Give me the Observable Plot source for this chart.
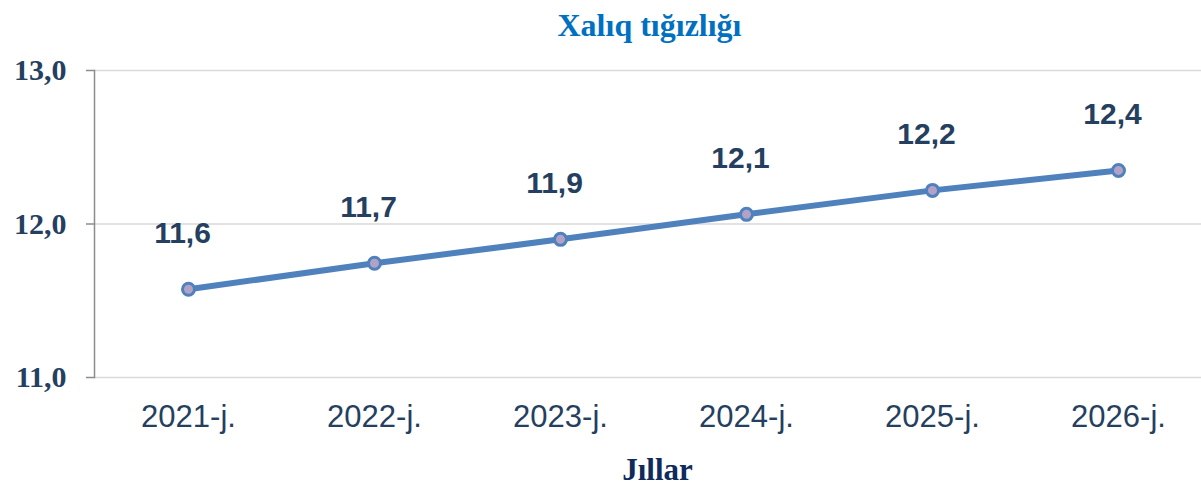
<!DOCTYPE html>
<html>
<head>
<meta charset="utf-8">
<script src="https://cdn.jsdelivr.net/npm/d3@7"></script>
<script src="https://cdn.jsdelivr.net/npm/@observablehq/plot@0.6"></script>
<style>
  body { margin: 0; background: #fff; }
  #wrap { position: relative; width: 1201px; height: 489px; overflow: hidden; }
  .ttl { position: absolute; left: 0; width: 1201px; text-align: center; box-sizing: border-box;
         font-family: "Liberation Serif", "Times New Roman", serif; font-weight: bold; }
  #title { top: 9px; font-size: 32px; line-height: 32px; color: #0070c0; padding-left: 98px; }
  #xlabel { top: 456px; font-size: 31px; line-height: 28px; color: #0f2a5c; padding-left: 114px; }
</style>
</head>
<body>
<div id="wrap">
  <div id="chart"></div>
  <div id="title" class="ttl">Xalıq tığızlığı</div>
  <div id="xlabel" class="ttl">Jıllar</div>
</div>
<script>
const years = ["2021-j.", "2022-j.", "2023-j.", "2024-j.", "2025-j.", "2026-j."];
const values = [11.575, 11.744, 11.90, 12.063, 12.219, 12.349];
const valueLabels = ["11,6", "11,7", "11,9", "12,1", "12,2", "12,4"];
const yTicks = [11, 12, 13];

const data = years.map((y, i) => ({year: y, value: values[i], label: valueLabels[i]}));
const navy = "#243f60";

const chart = Plot.plot({
  width: 1201,
  height: 489,
  marginTop: 70,
  marginBottom: 112,
  marginLeft: 94,
  marginRight: 0,
  style: {background: "transparent", overflow: "visible"},
  x: {type: "point", domain: years, range: [187, 1118], padding: 0, label: null},
  y: {domain: [11, 13], label: null},
  marks: [
    Plot.gridY(yTicks, {stroke: "#d9d9d9", strokeOpacity: 1, strokeWidth: 1.5}),
    Plot.frame({anchor: "left", stroke: "#8c8c8c", strokeWidth: 1.5}),
    Plot.axisY(yTicks, {
      tickSize: 8, tickPadding: 20, stroke: "#8c8c8c", strokeWidth: 1.5,
      tickFormat: d => d.toFixed(1).replace(".", ","),
      fontSize: 30, fontWeight: "bold", fontFamily: "Liberation Serif, Times New Roman, serif",
      fill: navy, label: null
    }),
    Plot.axisX({
      tickSize: 0, tickPadding: 27, fontSize: 31,
      fontFamily: "Liberation Sans, Arial, sans-serif", fill: navy, label: null
    }),
    Plot.line(data, {x: "year", y: "value", stroke: "#4f81bd", strokeWidth: 6}),
    Plot.dot(data, {x: "year", y: "value", r: 6, fill: "#b3a2c7", stroke: "#4f81bd", strokeWidth: 3}),
    Plot.text(data, {
      x: "year", y: "value", text: "label", dy: -56, dx: -6,
      fontSize: 30, fontWeight: "bold", fontFamily: "Liberation Sans, Arial, sans-serif", fill: navy
    })
  ]
});
document.getElementById("chart").appendChild(chart);
</script>
</body>
</html>
